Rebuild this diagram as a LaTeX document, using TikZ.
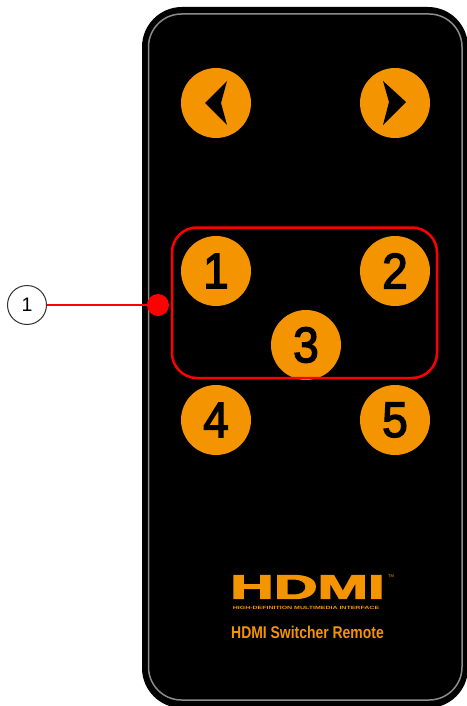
\documentclass[tikz,border=0pt]{standalone}
\usepackage{fontspec}
\setmainfont{Liberation Sans}
\newfontfamily\logofont[BoldFeatures={FakeBold=3}]{Liberation Sans}
\newfontfamily\numfont[FakeBold=3]{Liberation Sans}
\usepackage{xcolor}
\definecolor{btnorange}{RGB}{243,148,0}
\definecolor{edgegray}{RGB}{140,140,140}
\definecolor{callred}{RGB}{255,0,0}
\tikzset{
  btn/.style={circle,fill=btnorange,minimum size=70pt,inner sep=0pt},
  btnnum/.style={inner sep=0pt,font=\numfont\fontsize{50}{50}\selectfont,xscale=0.92},
  callout/.style={circle,draw=black!80,line width=1pt,fill=white,minimum size=39pt,inner sep=0pt,font=\fontsize{19.5}{19.5}\selectfont},
  logotext/.style={text=btnorange,inner sep=0pt}
}
\begin{document}
\begin{tikzpicture}[x=1pt,y=-1pt]
\useasboundingbox (0,0) rectangle (466,706);
\fill [white] (0,0) rectangle (466,706);

% remote body
\fill [black,rounded corners=40pt] (142,7) rectangle (468,708);
\draw [edgegray,line width=1.5pt,rounded corners=33pt] (148.5,14) rectangle (462,700);

% buttons
\node [btn] (left) at (216,103) {};
\node [btn] (right) at (395,103) {};
\node [btn] (one) at (216,271) {};
\node [btn] (two) at (395,271) {};
\node [btn] (three) at (306,345) {};
\node [btn] (four) at (216,420) {};
\node [btn] (five) at (395,420) {};
\node [btnnum] at (one) {1};
\node [btnnum] at (two) {2};
\node [btnnum] at (three) {3};
\node [btnnum] at (four) {4};
\node [btnnum] at (five) {5};

\fill [black] (205,103) -- (227,81) -- (221,103) -- (227,125) -- cycle;
\fill [black] (406,102) -- (383,81) -- (389,102) -- (383,125) -- cycle;

% logo
\node [logotext,font=\logofont\bfseries\fontsize{34}{34}\selectfont,xscale=1.78] (logo) at (307.5,587) {HDMI};
\node [logotext,font=\fontsize{4}{4}\selectfont] (tm) at (391,576) {TM};
\node [logotext,font=\bfseries\fontsize{4.6}{4.6}\selectfont,xscale=1.52] (logosub) at (306,608) {HIGH-DEFINITION MULTIMEDIA INTERFACE};
\node [logotext,font=\bfseries\fontsize{17}{17}\selectfont,xscale=0.82] (caption) at (307.5,632) {HDMI Switcher Remote};

% callout
\draw [callred,line width=2.5pt,rounded corners=25pt] (172,227.5) rectangle (437,378);
\node [circle,fill=callred,minimum size=22pt,inner sep=0pt] (dot) at (158,305) {};
\node [callout] (num) at (27,305) {1};
\draw [callred,line width=2.6pt] (num) -- (dot.center);
\end{tikzpicture}
\end{document}
